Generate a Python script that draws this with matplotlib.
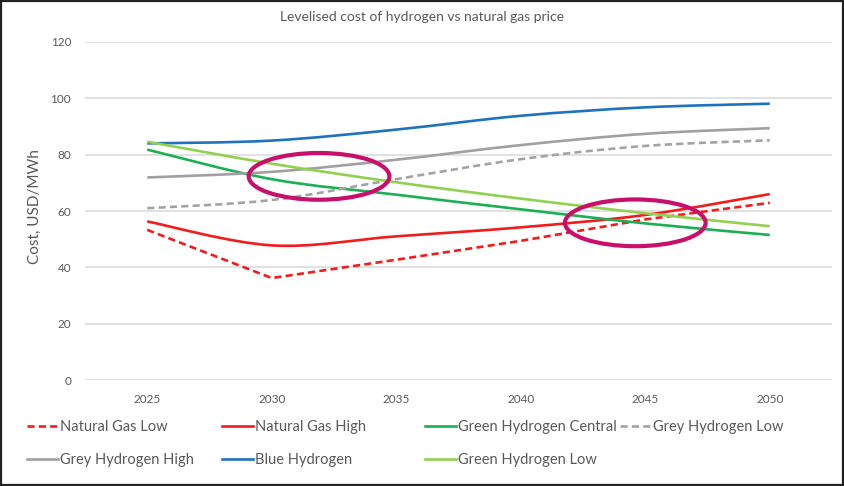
import numpy as np
import matplotlib
matplotlib.use("Agg")
import matplotlib.pyplot as plt
from matplotlib.path import Path
from matplotlib.patches import PathPatch, Ellipse, Rectangle
from matplotlib.lines import Line2D

plt.rcParams["font.family"] = ["Lato", "DejaVu Sans"]

# ---------------------------------------------------
# DATA
# ---------------------------------------------------
years = [2025, 2030, 2035, 2040, 2045, 2050]

natural_gas_low = [53.3, 36.2, 42.7, 49.4, 57.0, 62.9]
natural_gas_high = [56.3, 47.8, 51.0, 54.2, 58.6, 66.0]
green_h2_central = [81.8, 71.3, 65.8, 60.6, 55.6, 51.5]
grey_h2_low = [61.0, 63.9, 71.3, 78.4, 83.1, 85.1]
grey_h2_high = [71.9, 73.9, 78.2, 83.4, 87.4, 89.4]
blue_h2 = [84.0, 85.0, 88.9, 93.8, 96.8, 98.1]
green_h2_low = [84.6, 76.8, 70.2, 64.4, 59.2, 54.6]

# highlighted crossover regions: (centre year, centre cost)
highlight_centres = [(2031.9, 72.3), (2044.6, 55.8)]

series = [
    # label, values, colour, dashed, smoothed
    ("Natural Gas Low", natural_gas_low, "#F21C1C", True, False),
    ("Natural Gas High", natural_gas_high, "#F21C1C", False, True),
    ("Green Hydrogen Central", green_h2_central, "#1DAF55", False, True),
    ("Grey Hydrogen Low", grey_h2_low, "#A3A3A3", True, True),
    ("Grey Hydrogen High", grey_h2_high, "#A0A0A0", False, True),
    ("Blue Hydrogen", blue_h2, "#1F72C0", False, True),
    ("Green Hydrogen Low", green_h2_low, "#92D050", False, True),
]

DASH = (0, (2.7, 1.6))
LW = 1.9
TEXT_GREY = "#595959"


def smooth_path(xs, ys):
    # Excel-style smoothed line: cubic bezier through every point
    pts = np.column_stack([xs, ys]).astype(float)
    n = len(pts)
    verts = [pts[0]]
    codes = [Path.MOVETO]
    for i in range(n - 1):
        p0 = pts[max(i - 1, 0)]
        p1 = pts[i]
        p2 = pts[i + 1]
        p3 = pts[min(i + 2, n - 1)]
        verts += [p1 + (p2 - p0) / 6, p2 - (p3 - p1) / 6, p2]
        codes += [Path.CURVE4] * 3
    return Path(verts, codes)


# ---------------------------------------------------
# PLOTTING
# ---------------------------------------------------
fig = plt.figure(figsize=(8.45, 4.86), dpi=100)
ax = fig.add_axes([85 / 845, 1 - 380 / 486, 747 / 845, 338 / 486])

handles = {}
for label, vals, color, dashed, smooth in series:
    ls = DASH if dashed else "-"
    if smooth:
        patch = PathPatch(smooth_path(years, vals), fill=False, edgecolor=color,
                          lw=LW, linestyle=ls, capstyle="butt", zorder=3)
        ax.add_patch(patch)
    else:
        ax.plot(years, vals, color=color, lw=LW, linestyle=ls, zorder=3)
    handles[label] = Line2D([], [], color=color, lw=LW, linestyle=ls)

for cx, cy in highlight_centres:
    ax.add_patch(Ellipse((cx, cy), width=5.65, height=16.6, fill=False,
                         edgecolor="#C8106A", lw=3.0, zorder=4))

ax.set_xlim(2022.5, 2052.5)
ax.set_ylim(0, 120)
ax.set_xticks(years)
ax.set_yticks(range(0, 121, 20))
ax.grid(axis="y", color="#DCDCDC", lw=1.2)
ax.set_axisbelow(True)
for sp in ax.spines.values():
    sp.set_visible(False)
ax.tick_params(axis="both", length=0, colors=TEXT_GREY, labelsize=8.5)
ax.tick_params(axis="x", pad=10)
ax.tick_params(axis="y", pad=10)

fig.text(35 / 845, 1 - 207 / 486, "Cost, USD/MWh", rotation=90, ha="center",
         va="center", fontsize=11, color=TEXT_GREY)
fig.text(0.5, 1 - 17 / 486, "Levelised cost of hydrogen vs natural gas price",
         ha="center", va="center", fontsize=10, color=TEXT_GREY)

# legend laid out in columns like the Excel legend
legend_cols = [
    (27, ["Natural Gas Low", "Grey Hydrogen High"]),
    (222, ["Natural Gas High", "Blue Hydrogen"]),
    (425, ["Green Hydrogen Central", "Green Hydrogen Low"]),
    (620, ["Grey Hydrogen Low"]),
]
for x0, labels in legend_cols:
    leg = fig.legend([handles[l] for l in labels], labels, loc="upper left",
                     bbox_to_anchor=(x0 / 845, 1 - 420 / 486), frameon=False,
                     fontsize=10.5, handlelength=2.1, handletextpad=0.15,
                     labelspacing=1.3, borderpad=0, borderaxespad=0)
    for t in leg.get_texts():
        t.set_color(TEXT_GREY)

fig.add_artist(Rectangle((0.001, 0.002), 0.997, 0.996, transform=fig.transFigure,
                         fill=False, edgecolor="#222222", lw=1.6))

fig.savefig("out.png", dpi=100)
